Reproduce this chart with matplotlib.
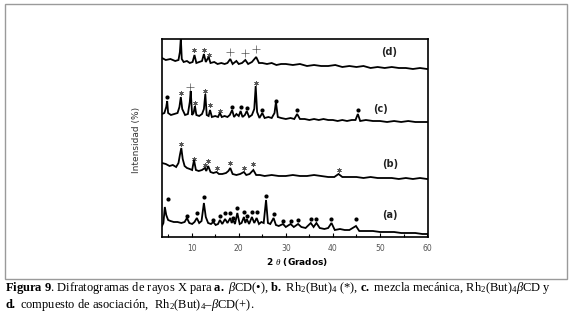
import matplotlib
matplotlib.use("Agg")
import matplotlib.pyplot as plt
from matplotlib.patches import Rectangle
from matplotlib.ticker import MultipleLocator

plt.rcParams['mathtext.fontset'] = 'custom'
plt.rcParams['mathtext.rm'] = 'Liberation Serif'
plt.rcParams['mathtext.it'] = 'Liberation Serif:italic'
plt.rcParams['mathtext.bf'] = 'Liberation Serif:bold'

# ---------------- data (2theta, offset intensity) ----------------
d_x = [3.7, 4.5, 5.5, 6.5, 7.2, 7.5, 7.7, 7.9, 8.3, 9.0, 9.6, 10.2, 10.6, 11.0, 11.6, 12.2, 12.6, 13.0,
       13.6, 14.0, 14.8, 15.5, 16.3, 17.0, 17.6, 18.2, 18.7, 19.5, 20.0, 20.7, 21.4, 22.0, 22.8, 23.7,
       24.3, 25.0, 26.0, 27.0, 28.0, 29.0, 30.0, 31.5, 33.0, 34.5, 36.0, 37.5, 39.0, 40.5, 42.0, 43.5,
       45.0, 46.5, 48.0, 49.5, 51.0, 52.5, 54.0, 55.5, 57.0, 58.5, 60.0]
d_y = [179, 177, 178, 176, 177, 185, 199, 178, 175, 176, 174, 175, 182, 174, 175, 176, 183, 175,
       180, 174, 175, 173, 174, 173, 174, 178, 173, 176, 173, 174, 177, 173, 175, 180,
       174, 174, 173, 174, 172, 173, 173, 172, 173, 171, 172, 171, 171, 172, 170, 171,
       170, 171, 169, 170, 169, 170, 169, 169, 168, 169, 168]

c_x = [3.7, 4.2, 4.6, 4.8, 5.0, 5.6, 6.3, 7.0, 7.4, 7.7, 8.0, 8.6, 9.2, 9.6, 9.8, 10.1, 10.4, 10.7,
       11.0, 11.6, 12.2, 12.6, 12.9, 13.2, 13.6, 13.9, 14.3, 15.0, 15.6, 16.0, 16.4, 17.0, 17.6, 18.1,
       18.6, 19.0, 19.5, 20.0, 20.4, 20.8, 21.3, 21.7, 22.2, 22.8, 23.3, 23.6, 23.9, 24.4, 25.0, 25.5,
       26.3, 27.0, 27.6, 27.9, 28.3, 29.0, 30.0, 31.0, 31.8, 32.4, 33.0, 34.0, 35.0, 36.0, 37.0, 38.0,
       39.0, 40.0, 41.0, 42.0, 43.0, 44.0, 44.8, 45.3, 45.8, 47.0, 48.5, 50.0, 51.5, 53.0, 54.5, 56.0,
       57.5, 59.0, 60.0]
c_y = [123, 124, 130, 136, 124, 122, 123, 124, 130, 140, 128, 122, 123, 135, 146, 122, 124, 131,
       122, 121, 123, 128, 143, 122, 121, 127, 120, 121, 120, 124, 120, 121, 120, 122,
       127, 120, 123, 121, 126, 120, 122, 126, 120, 122, 128, 151, 125, 119, 124, 119,
       120, 119, 124, 135, 120, 119, 118, 119, 118, 123, 118, 118, 117, 118, 117, 118,
       117, 117, 116, 117, 116, 117, 117, 123, 116, 117, 116, 116, 115, 116, 115, 116,
       115, 115, 115]

b_x = [3.7, 4.5, 5.3, 6.0, 6.7, 7.2, 7.5, 7.8, 8.1, 8.5, 9.0, 9.6, 10.1, 10.5, 10.9, 11.5, 12.2, 12.8,
       13.1, 13.5, 14.0, 14.6, 15.3, 15.8, 16.5, 17.3, 17.8, 18.2, 18.7, 19.5, 20.3, 21.1, 21.6, 22.3,
       23.1, 23.7, 24.5, 25.5, 27.0, 28.5, 30.0, 31.5, 33.0, 34.5, 36.0, 37.5, 39.0, 40.3, 41.2, 42.0,
       43.5, 45.0, 46.5, 48.0, 49.5, 51.0, 52.5, 54.0, 55.5, 57.0, 58.5, 60.0]
b_y = [74, 73, 71, 72, 70, 74, 82, 89, 78, 71, 69, 68, 67, 77, 67, 66, 67, 69,
       66, 71, 65, 64, 65, 63, 63, 64, 66, 69, 63, 62, 63, 65, 62, 63,
       67, 62, 62, 61, 62, 61, 61, 62, 61, 61, 62, 61, 60, 60, 63, 60,
       60, 60, 59, 60, 59, 59, 59, 58, 59, 58, 59, 58]

a_x = [3.7, 4.0, 4.3, 4.6, 5.0, 5.5, 6.2, 7.0, 7.8, 8.5, 9.0, 9.5, 10.1, 10.6, 11.1, 11.6, 12.1, 12.6,
       13.0, 13.5, 14.1, 14.6, 15.1, 15.6, 16.0, 16.5, 17.1, 17.6, 18.2, 18.5, 18.8, 19.2, 19.7, 20.2,
       20.6, 21.1, 21.4, 21.7, 22.2, 22.8, 23.3, 23.8, 24.3, 24.8, 25.3, 25.8, 26.2, 26.7, 27.4, 27.9,
       28.5, 29.4, 30.0, 31.0, 31.7, 32.6, 33.3, 34.2, 35.3, 35.9, 36.5, 37.2, 38.2, 39.0, 39.7, 40.4,
       41.5, 42.5, 43.5, 44.9, 45.6, 47.0, 48.5, 50.0, 51.5, 53.0, 54.5, 56.0, 57.5, 59.0, 60.0]
a_y = [11, 14, 30, 22, 17, 16, 15, 15, 14, 15, 19, 14, 13, 15, 19, 14, 16, 34,
       20, 14, 13, 15, 12, 13, 17, 13, 18, 14, 19, 14, 17, 13, 24, 13,
       14, 20, 14, 18, 13, 20, 14, 19, 13, 15, 14, 37, 14, 13, 19, 12,
       11, 13, 10, 13, 10, 13, 10, 9, 14, 10, 14, 9, 8, 9, 14, 7,
       8, 7, 7, 11, 6, 6, 6, 5, 5, 5, 4, 4, 4, 3, 3]

# peak markers
dot_x = [5.0, 9.0, 11.1, 12.6, 14.6, 16.0, 17.1, 18.2, 18.8, 19.7, 21.1, 21.7, 22.8, 23.8, 25.8,
         27.4, 29.4, 31.0, 32.6, 35.3, 36.5, 39.7, 44.9,
         4.8, 18.6, 20.4, 21.7, 25.0, 27.9, 32.4, 45.3]
dot_y = [38, 21, 24, 40, 17, 21, 24, 24, 19, 29, 25, 21, 25, 25, 41,
         23, 16, 16, 17, 18, 18, 18, 18,
         140, 130, 130, 129, 127, 136, 127, 127]
star_x = [7.8, 10.5, 12.8, 13.5, 15.3, 18.2, 21.1, 23.1, 41.2,
          7.7, 10.7, 12.9, 13.9, 16.0, 23.6,
          10.6, 12.6, 13.6]
star_y = [93, 78, 72, 76, 69, 74, 69, 73, 67,
          144, 134, 146, 132, 126, 154,
          187, 187, 182]
plus_x = [9.7, 18.2, 21.4, 23.7]
plus_y = [150, 185, 184, 188]

labels = ["(a)", "(b)", "(c)", "(d)"]
label_x = [52.0, 52.2, 50.2, 52.0]
label_y = [22, 73, 128, 185]

xticks = [10, 20, 30, 40, 50, 60]

# ---------------- figure ----------------
W, H = 573, 317
fig = plt.figure(figsize=(W / 100, H / 100), dpi=100)

fig.patches.append(Rectangle((5 / W, 1 - 279 / H), 562 / W, 275 / H, transform=fig.transFigure,
                             fill=False, edgecolor='#9a9a9a', linewidth=1.0))

ax = fig.add_axes([162 / W, 1 - 237 / H, 266 / W, 198 / H])
for xs, ys in [(a_x, a_y), (b_x, b_y), (c_x, c_y), (d_x, d_y)]:
    ax.plot(xs, ys, color='black', linewidth=1.3, solid_joinstyle='miter')

ax.scatter(dot_x, dot_y, s=9, color='black', marker='o', linewidths=0)
ax.scatter(star_x, star_y, s=9, color='#555555', marker=(6, 2, 0), linewidths=0.5)
ax.scatter(plus_x, plus_y, s=30, color='#555555', marker='+', linewidths=0.5)

for t, x, y in zip(labels, label_x, label_y):
    ax.text(x, y, t, fontsize=7, fontweight='bold', color='#222222', ha='center', va='center',
            family='DejaVu Sans')

ax.set_xlim(3.7, 60.2)
ax.set_ylim(0, 198)
ax.set_xticks(xticks)
ax.xaxis.set_minor_locator(MultipleLocator(5))
ax.tick_params(axis='x', direction='in', length=3, width=0.8, labelsize=5.5, labelcolor='#555555',
               pad=5)
ax.tick_params(axis='x', which='minor', direction='in', length=2.5, width=0.8)
ax.set_yticks([])
for s in ax.spines.values():
    s.set_linewidth(1.2)

fig.text(297 / W, 1 - 262 / H, r"2 $\theta$ (Grados)", fontsize=6.5, fontweight='bold',
         ha='center', va='center', family='DejaVu Sans')
fig.text(137 / W, 1 - 140 / H, "Intensidad (%)", fontsize=6.5, rotation=90, ha='center',
         va='center', family='DejaVu Sans', color='#333333')

cap1 = (r"$\mathbf{Figura\ 9}$. Difratogramas de rayos X para $\mathbf{a.}$ $\beta$CD(•), "
        r"$\mathbf{b.}$ Rh$_2$(But)$_4$ (*), $\mathbf{c.}$ mezcla mecánica, Rh$_2$(But)$_4$$\beta$CD y")
cap2 = r"$\mathbf{d.}$ compuesto de asociación,  Rh$_2$(But)$_4$–$\beta$CD(+)."
fig.text(5 / W, 1 - 288 / H, cap1, fontsize=9.0, ha='left', va='center', family='Liberation Serif')
fig.text(5 / W, 1 - 305 / H, cap2, fontsize=9.0, ha='left', va='center', family='Liberation Serif')

fig.savefig("out.png", dpi=100)
